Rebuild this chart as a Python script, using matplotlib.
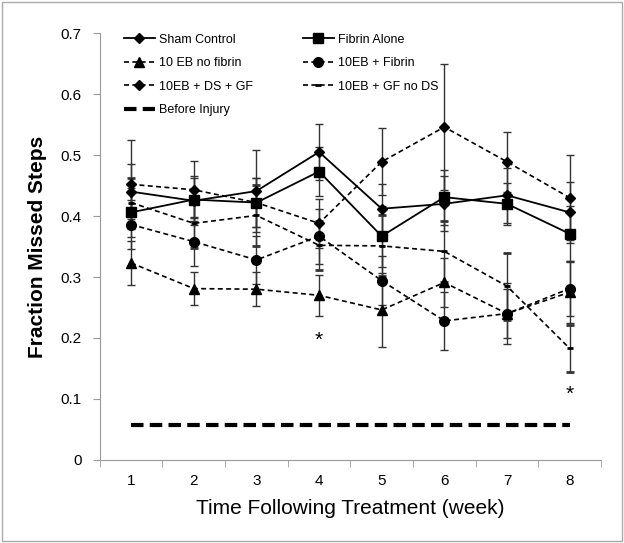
import numpy as np
import matplotlib
matplotlib.use("Agg")
import matplotlib.pyplot as plt

plt.rcParams["font.family"] = ["Liberation Sans", "DejaVu Sans"]

weeks = [1, 2, 3, 4, 5, 6, 7, 8]

sham = [0.440, 0.425, 0.441, 0.505, 0.412, 0.420, 0.434, 0.406]
sham_err = [0.045, 0.040, 0.068, 0.046, 0.040, 0.045, 0.045, 0.050]

fibrin = [0.406, 0.427, 0.422, 0.473, 0.367, 0.431, 0.420, 0.371]
fibrin_err = [0.040, 0.035, 0.040, 0.040, 0.050, 0.045, 0.035, 0.045]

eb_no_fibrin = [0.323, 0.281, 0.280, 0.270, 0.246, 0.291, 0.240, 0.275]
eb_no_fibrin_err = [0.036, 0.027, 0.028, 0.034, 0.060, 0.040, 0.050, 0.050]

eb_fibrin = [0.386, 0.358, 0.328, 0.367, 0.294, 0.228, 0.240, 0.281]
eb_fibrin_err = [0.040, 0.040, 0.040, 0.045, 0.040, 0.048, 0.040, 0.045]

eb_ds_gf = [0.452, 0.443, 0.422, 0.388, 0.489, 0.546, 0.489, 0.430]
eb_ds_gf_err = [0.073, 0.047, 0.040, 0.040, 0.055, 0.104, 0.049, 0.070]

eb_gf_no_ds = [0.422, 0.388, 0.401, 0.352, 0.351, 0.342, 0.285, 0.183]
eb_gf_no_ds_err = [0.040, 0.040, 0.050, 0.040, 0.050, 0.050, 0.055, 0.038]

before_injury = [0.058] * 8

stars_x = [4, 8]
stars_y = [0.196, 0.108]

fig = plt.figure(figsize=(6.24, 5.43), dpi=100)
ax = fig.add_axes([0.16, 0.153, 0.803, 0.786])

eb_kw = dict(color="black", ecolor="#333333", elinewidth=1, capsize=3, capthick=1)
dash = (0, (3, 2))

h_sham = ax.errorbar(weeks, sham, yerr=sham_err, ls="-", lw=1.3, marker="D", ms=5, **eb_kw)
h_nofib = ax.errorbar(weeks, eb_no_fibrin, yerr=eb_no_fibrin_err, ls=dash, lw=1.2, marker="^", ms=7, **eb_kw)
h_dsgf = ax.errorbar(weeks, eb_ds_gf, yerr=eb_ds_gf_err, ls=dash, lw=1.2, marker="D", ms=5, **eb_kw)
h_before, = ax.plot(weeks, before_injury, color="black", lw=3, ls=(0, (3, 1.5)))
h_fib = ax.errorbar(weeks, fibrin, yerr=fibrin_err, ls="-", lw=1.3, marker="s", ms=7, **eb_kw)
h_ebfib = ax.errorbar(weeks, eb_fibrin, yerr=eb_fibrin_err, ls=dash, lw=1.2, marker="o", ms=7, **eb_kw)
h_gf = ax.errorbar(weeks, eb_gf_no_ds, yerr=eb_gf_no_ds_err, ls=dash, lw=1.2, marker="_", ms=5,
                   mew=2, **eb_kw)

for x, y in zip(stars_x, stars_y):
    ax.text(x, y, "*", ha="center", va="center", fontsize=15)

ax.set_xlim(0.5, 8.5)
ax.set_ylim(0, 0.7)
ax.set_xticks(weeks)
ax.set_xticks(np.arange(0.5, 9, 1), minor=True)
ax.tick_params(axis="x", which="major", length=0, labelsize=11, pad=10)
ax.tick_params(axis="x", which="minor", length=5, color="#999999")
ax.set_yticks(np.arange(0, 0.71, 0.1))
ax.set_yticklabels(["0"] + ["%.1f" % v for v in np.arange(0.1, 0.71, 0.1)])
ax.tick_params(axis="y", length=5, color="#999999", labelsize=11, pad=8)

for s in ["top", "right"]:
    ax.spines[s].set_visible(False)
for s in ["left", "bottom"]:
    ax.spines[s].set_color("#999999")

ax.set_ylabel("Fraction Missed Steps", fontsize=15, fontweight="bold", labelpad=10)
ax.set_xlabel("Time Following Treatment (week)", fontsize=15, labelpad=8)

handles = [h_sham[0], h_nofib[0], h_dsgf[0], h_before, h_fib[0], h_ebfib[0], h_gf[0]]
labels = ["Sham Control", "10 EB no fibrin", "10EB + DS + GF", "Before Injury",
          "Fibrin Alone", "10EB + Fibrin", "10EB + GF no DS"]
ax.legend(handles, labels, ncol=2, loc="upper left", bbox_to_anchor=(0.025, 1.025), frameon=False,
          fontsize=9, handlelength=2.5, handletextpad=0.3, columnspacing=4.0, labelspacing=0.92)

fig.patches.append(plt.Rectangle((0.004, 0.004), 0.992, 0.992, transform=fig.transFigure,
                                 fill=False, edgecolor="#aaaaaa", lw=1))

fig.savefig("out.png", dpi=100)
